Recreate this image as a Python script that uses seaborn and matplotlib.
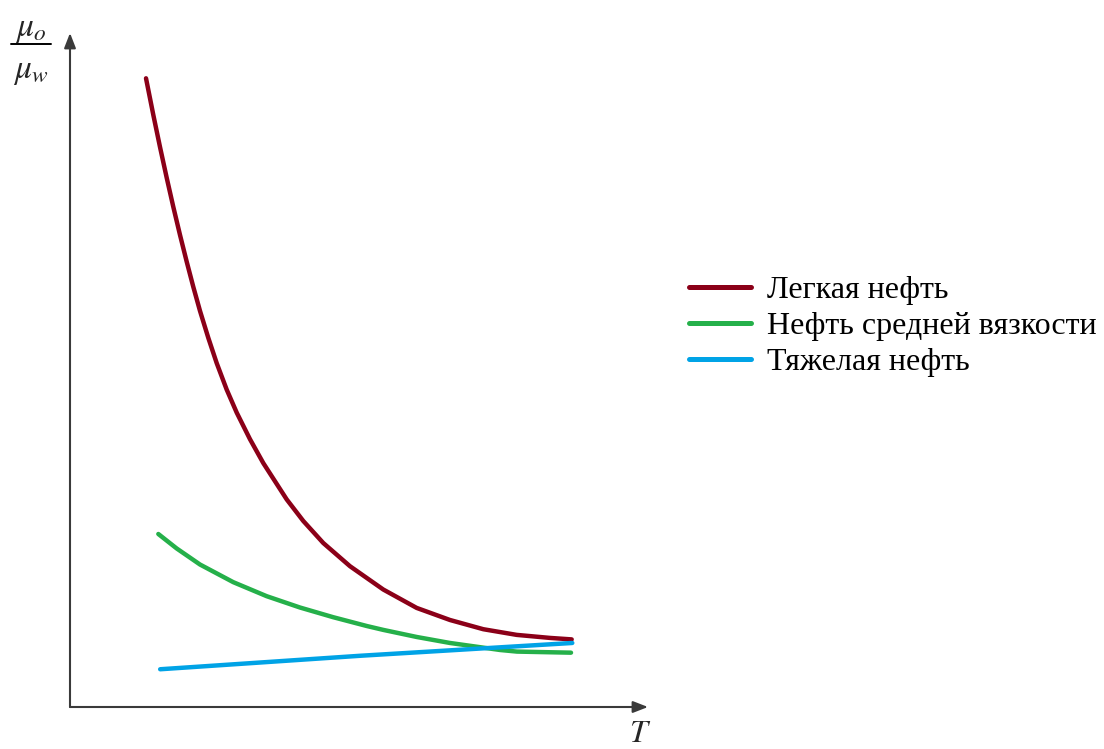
import matplotlib
matplotlib.use("Agg")
import matplotlib.pyplot as plt
from matplotlib.lines import Line2D
import seaborn as sns
import pandas as pd

# ---- data (arbitrary units) ----
light_T = [13.15, 14.41, 15.57, 16.73, 17.87, 19.03, 20.19, 21.33, 22.49, 23.93,
           25.38, 27.11, 28.84, 31.14, 33.44, 37.49, 40.36, 43.82, 48.44,
           54.20, 59.98, 65.74, 71.51, 77.28, 83.04, 86.80]
light_r = [93.28, 87.86, 83.09, 78.52, 74.21, 70.04, 66.07, 62.34, 58.77, 54.76,
           51.02, 47.09, 43.68, 39.73, 36.19, 30.80, 27.60, 24.33, 20.89,
           17.43, 14.70, 12.91, 11.54, 10.70, 10.25, 10.03]

medium_T = [15.28, 18.46, 22.49, 28.25, 34.03, 39.79, 45.55, 51.33, 54.20, 59.98,
            65.74, 74.39, 77.34, 86.68]
medium_r = [25.67, 23.52, 21.14, 18.52, 16.44, 14.76, 13.32, 12.02, 11.44, 10.39,
            9.50, 8.46, 8.22, 8.06]

heavy_T = [15.6, 50.2, 86.9]
heavy_r = [5.6, 7.6, 9.5]

labels = ["Легкая нефть", "Нефть средней вязкости", "Тяжелая нефть"]
colors = ["#8B0018", "#25B04A", "#00A3E6"]

rows = []
for lab, xs, ys in zip(labels, [light_T, medium_T, heavy_T], [light_r, medium_r, heavy_r]):
    for x, y in zip(xs, ys):
        rows.append({"T": x, "ratio": y, "series": lab})
df = pd.DataFrame(rows)

sns.set_style("white")
plt.rcParams["font.family"] = ["Liberation Serif", "DejaVu Serif"]
plt.rcParams["mathtext.fontset"] = "stix"

W, H = 1104, 749
fig = plt.figure(figsize=(W / 100, H / 100), dpi=100)
ax = fig.add_axes([70 / W, 1 - 707 / H, (648 - 70) / W, (707 - 33) / H])

sns.lineplot(data=df, x="T", y="ratio", hue="series", hue_order=labels,
             palette=colors, linewidth=3.2, ax=ax, sort=True, estimator=None,
             legend=False)

ax.set_xlim(0, 100)
ax.set_ylim(0, 100)
for s in ax.spines.values():
    s.set_visible(False)
ax.set_xticks([])
ax.set_yticks([])
ax.set_xlabel("")
ax.set_ylabel("")

arrow = dict(arrowstyle="-|>,head_length=0.9,head_width=0.35", color="#3a3a3a",
             lw=1.5, shrinkA=0, shrinkB=0)
ax.annotate("", xy=(1, 0), xytext=(0, 0), xycoords="axes fraction",
            textcoords="axes fraction", arrowprops=arrow)
ax.annotate("", xy=(0, 1), xytext=(0, 0), xycoords="axes fraction",
            textcoords="axes fraction", arrowprops=arrow)

# y label as a stacked fraction
fig.text(31 / W, 1 - 30 / H, r"$\mu_o$", fontsize=24, ha="center", va="center")
fig.add_artist(Line2D([11 / W, 51 / W], [1 - 44 / H, 1 - 44 / H],
                      transform=fig.transFigure, color="black", lw=1.4))
fig.text(31 / W, 1 - 72 / H, r"$\mu_w$", fontsize=24, ha="center", va="center")
fig.text(640 / W, 1 - 734 / H, r"$T$", fontsize=23, ha="center", va="center")

handles = [Line2D([], [], color=c, lw=3.6) for c in colors]
leg = fig.legend(handles, labels, loc="upper left",
                 bbox_to_anchor=(689 / W, 1 - 276 / H),
                 bbox_transform=fig.transFigure, frameon=False,
                 fontsize=23, handlelength=1.95, handletextpad=0.5,
                 labelspacing=0.2, borderaxespad=0, borderpad=0)
for t in leg.get_texts():
    t.set_color("black")

fig.savefig("out.png", dpi=100, facecolor="white")
